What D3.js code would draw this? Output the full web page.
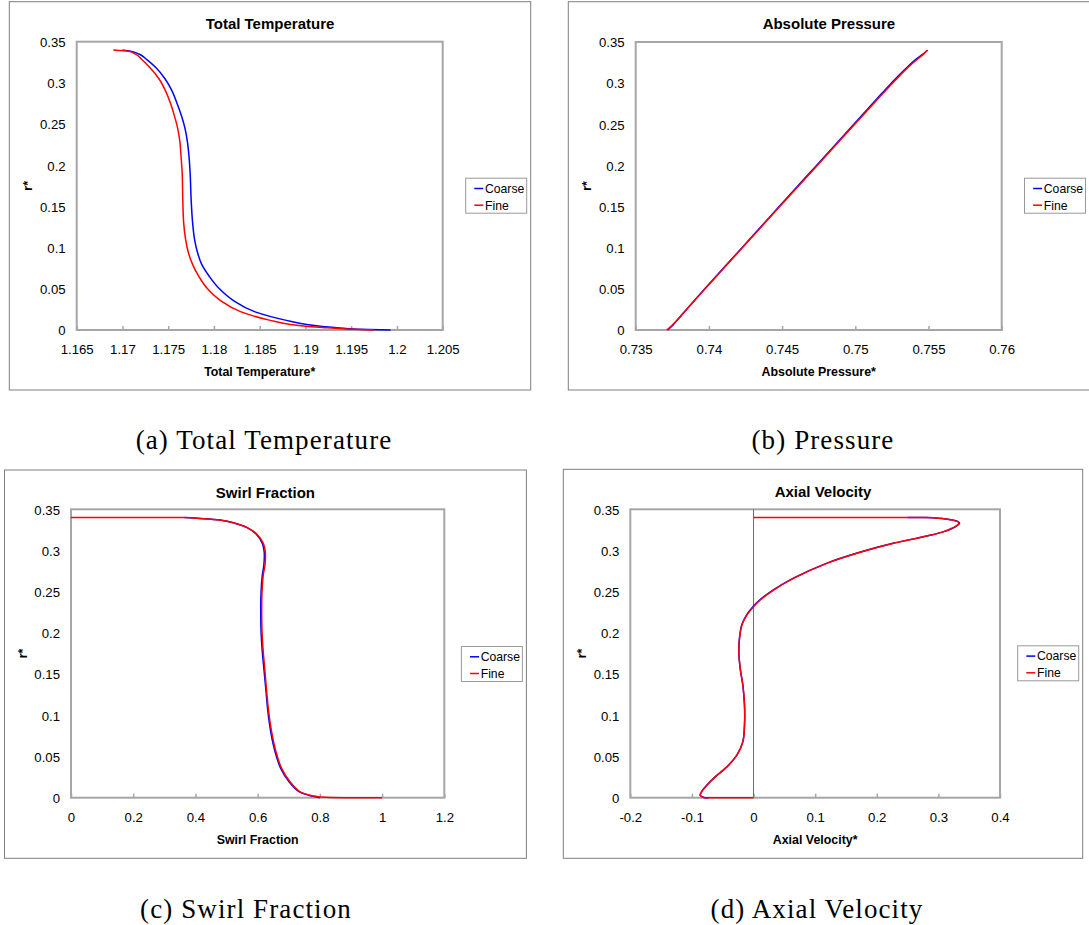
<!DOCTYPE html>
<html>
<head>
<meta charset="utf-8">
<script src="https://cdnjs.cloudflare.com/ajax/libs/d3/7.8.5/d3.min.js"></script>
<style>
body { margin: 0; background: #fff; }
svg text { font-family: "Liberation Sans", Arial, sans-serif; fill: #000; }
text.caption { font-family: "Liberation Serif", "Times New Roman", serif; }
</style>
</head>
<body>
<svg id="fig" width="1089" height="925"></svg>
<script>
// r* ticks shared by all four panels
var rTicks = [0, 0.05, 0.1, 0.15, 0.2, 0.25, 0.3, 0.35];

// (a) total temperature
var tempTicks = [1.165, 1.17, 1.175, 1.18, 1.185, 1.19, 1.195, 1.2, 1.205];
var tempR = [0.34, 0.3385, 0.335, 0.328, 0.318, 0.305, 0.29, 0.275, 0.26, 0.245, 0.23, 0.21, 0.19, 0.16, 0.13, 0.11, 0.095, 0.08, 0.065, 0.05, 0.036, 0.022, 0.012, 0.0065, 0.003, 0.001, 0];
var tempCoarseX = [1.17, 1.1709, 1.1718, 1.1727, 1.1737, 1.17465, 1.17543, 1.17597, 1.17645, 1.17683, 1.17708, 1.17728, 1.1774, 1.1775, 1.17767, 1.17788, 1.17818, 1.17865, 1.1795, 1.1806, 1.1821, 1.1845, 1.1878, 1.1903, 1.1932, 1.1958, 1.1993];
var tempFineX = [1.169, 1.17068, 1.17142, 1.17215, 1.17304, 1.17399, 1.17472, 1.17526, 1.17568, 1.17603, 1.17626, 1.17641, 1.17653, 1.17659, 1.17669, 1.1769, 1.17718, 1.17765, 1.17835, 1.1793, 1.18069, 1.18297, 1.18605, 1.18855, 1.19189, 1.19493, 1.1975];

// (b) absolute pressure
var pressR = [0, 0.005, 0.01, 0.02, 0.05, 0.1, 0.15, 0.2, 0.25, 0.28, 0.3, 0.31, 0.32, 0.33, 0.335, 0.34];
var pressTicks = [0.735, 0.74, 0.745, 0.75, 0.755, 0.76];
var pressCoarseX = [0.73718, 0.73748, 0.73774, 0.73823, 0.73972, 0.74226, 0.7448, 0.74735, 0.7499, 0.75143, 0.75246, 0.753, 0.75358, 0.75422, 0.7546, 0.75494];
var pressFineX = [0.73712, 0.73745, 0.73772, 0.73822, 0.73974, 0.74228, 0.74484, 0.7474, 0.74996, 0.7515, 0.75254, 0.75308, 0.75365, 0.7543, 0.75465, 0.7549];

// (c) swirl fraction
var swirlTicks = [0, 0.2, 0.4, 0.6, 0.8, 1, 1.2];
var swirlCoarseX = [0.365, 0.4147, 0.479, 0.5217, 0.5648, 0.595, 0.615, 0.621, 0.62, 0.615, 0.611, 0.61, 0.611, 0.615, 0.621, 0.627, 0.633, 0.642, 0.656, 0.674, 0.701, 0.733, 0.775, 0.8];
var swirlCoarseR = [0.34, 0.3389, 0.3369, 0.3337, 0.328, 0.32, 0.3087, 0.2986, 0.2824, 0.2702, 0.25, 0.2257, 0.2014, 0.177, 0.1529, 0.1286, 0.1043, 0.08, 0.0558, 0.0356, 0.0194, 0.0073, 0.002, 0];
var swirlFineX = [0, 0.15, 0.3, 0.362, 0.4147, 0.479, 0.5217, 0.5648, 0.597, 0.6182, 0.6246, 0.6236, 0.618, 0.614, 0.613, 0.614, 0.618, 0.6236, 0.629, 0.6355, 0.645, 0.659, 0.677, 0.704, 0.736, 0.779, 0.822, 0.9, 1];
var swirlFineR = [0.34, 0.34, 0.34, 0.3399, 0.3389, 0.3369, 0.3337, 0.328, 0.32, 0.3087, 0.2986, 0.2824, 0.2702, 0.25, 0.2257, 0.2014, 0.177, 0.1529, 0.1286, 0.1043, 0.08, 0.0558, 0.0356, 0.0194, 0.0073, 0.002, 0.0004, 0, 0];

// (d) axial velocity
var axialTicks = [-0.2, -0.1, 0, 0.1, 0.2, 0.3, 0.4];
var axialCoarseX = [0.25, 0.28, 0.3, 0.32, 0.332, 0.3345, 0.33, 0.309, 0.2814, 0.2262, 0.1722, 0.1181, 0.0639, 0.0315, 0.0099, -0.001, -0.0115, -0.0192, -0.0229, -0.0239, -0.0217, -0.0174, -0.0147, -0.0147, -0.0174, -0.0271, -0.0433, -0.0624, -0.0759, -0.084, -0.0865, -0.0805, -0.072];
var axialCoarseR = [0.34, 0.3399, 0.3392, 0.3374, 0.335, 0.333, 0.33, 0.3229, 0.3176, 0.3087, 0.2978, 0.2844, 0.2662, 0.252, 0.2399, 0.2318, 0.2217, 0.2095, 0.1933, 0.1771, 0.157, 0.1367, 0.1124, 0.088, 0.0678, 0.0516, 0.0374, 0.0253, 0.0151, 0.0078, 0.0029, 0.0003, 0];
var axialFineX = [0, 0.12, 0.24, 0.28, 0.3, 0.32, 0.331, 0.3335, 0.329, 0.3083, 0.2814, 0.2272, 0.1732, 0.1191, 0.0649, 0.0325, 0.0109, 0, -0.0108, -0.0188, -0.0227, -0.0238, -0.0216, -0.0173, -0.0146, -0.0146, -0.0173, -0.027, -0.0432, -0.0622, -0.0757, -0.0838, -0.0865, -0.0811, -0.065, -0.03, 0];
var axialFineR = [0.34, 0.34, 0.34, 0.3399, 0.3392, 0.3373, 0.335, 0.333, 0.33, 0.3229, 0.3176, 0.3087, 0.2978, 0.2844, 0.2662, 0.252, 0.2399, 0.2318, 0.2217, 0.2095, 0.1933, 0.1771, 0.157, 0.1367, 0.1124, 0.088, 0.0678, 0.0516, 0.0374, 0.0253, 0.0151, 0.0078, 0.0029, 0.0001, 0, 0, 0];

var seriesNames = ["Coarse", "Fine"];
var seriesColors = ["#0000ff", "#ff0000"];

function zipXY(xs, rs) {
	return xs.map(function(x, i) { return [x, rs[i]]; });
}

// Excel-like tick text: "1.2", "0.35", "-0.1"
function fmt(v) {
	return String(+v.toFixed(4));
}

var panels = [
	{ frame: [9.3, 1.7, 530.7, 390], plot: [76.7, 41.7, 442.7, 330],
		title: "Total Temperature", xlabel: "Total Temperature*", ticks: tempTicks,
		data: [zipXY(tempCoarseX, tempR), zipXY(tempFineX, tempR)], curve: d3.curveMonotoneY,
		caption: "(a) Total Temperature", cap: [264, 449] },
	{ frame: [568.3, 1.7, 1090.5, 390], plot: [635.7, 42, 1001.7, 330],
		title: "Absolute Pressure", xlabel: "Absolute Pressure*", ticks: pressTicks,
		data: [zipXY(pressCoarseX, pressR), zipXY(pressFineX, pressR)], curve: d3.curveMonotoneY,
		caption: "(b) Pressure", cap: [823, 449] },
	{ frame: [4.5, 470, 526.4, 858.3], plot: [71, 509.3, 444.3, 797.7],
		title: "Swirl Fraction", xlabel: "Swirl Fraction", ticks: swirlTicks,
		data: [zipXY(swirlCoarseX, swirlCoarseR), zipXY(swirlFineX, swirlFineR)], curve: d3.curveCatmullRom.alpha(0.5),
		caption: "(c) Swirl Fraction", cap: [246, 918] },
	{ frame: [563.3, 469.3, 1082.7, 858.3], plot: [630.3, 509.3, 1000, 797.7],
		title: "Axial Velocity", xlabel: "Axial Velocity*", ticks: axialTicks, zeroLine: true,
		data: [zipXY(axialCoarseX, axialCoarseR), zipXY(axialFineX, axialFineR)], curve: d3.curveCatmullRom.alpha(0.5),
		caption: "(d) Axial Velocity", cap: [817, 918] }
];

var svg = d3.select("#fig");

panels.forEach(drawPanel);

function drawPanel(p) {
	var f = p.frame, pl = p.plot;
	var right = Math.min(f[2], 1089.5);
	var g = svg.append("g");

	g.append("rect")
			.attr("x", f[0]).attr("y", f[1])
			.attr("width", f[2] - f[0]).attr("height", f[3] - f[1])
			.attr("fill", "#fff")
			.attr("stroke", "#7f7f7f")
			.attr("stroke-width", 1);

	var x = d3.scaleLinear()
			.domain([p.ticks[0], p.ticks[p.ticks.length - 1]])
			.range([pl[0], pl[2]]);
	var y = d3.scaleLinear()
			.domain([0, 0.35])
			.range([pl[3], pl[1]]);

	g.append("rect")
			.attr("x", pl[0]).attr("y", pl[1])
			.attr("width", pl[2] - pl[0]).attr("height", pl[3] - pl[1])
			.attr("fill", "#fff")
			.attr("stroke", "#a6a6a6")
			.attr("stroke-width", 2);

	var xAxis = d3.axisBottom(x)
			.tickValues(p.ticks)
			.tickFormat(fmt)
			.tickSize(-4)
			.tickPadding(15);

	var yAxis = d3.axisLeft(y)
			.tickValues(rTicks)
			.tickFormat(fmt)
			.tickSize(0)
			.tickPadding(11);

	var xg = g.append("g")
			.attr("transform", "translate(0," + pl[3] + ")")
			.call(xAxis);
	var yg = g.append("g")
			.attr("transform", "translate(" + pl[0] + ",0)")
			.call(yAxis);

	[xg, yg].forEach(function(a) {
		a.attr("font-family", null).attr("font-size", null);
		a.select(".domain").remove();
		a.selectAll(".tick line").attr("stroke", "#a6a6a6").attr("stroke-width", 1.5);
		a.selectAll(".tick text").style("font-size", "13.2px");
	});
	xg.selectAll(".tick text").attr("dy", "0.68em");
	yg.selectAll(".tick text").attr("dy", "0.36em");

	if (p.zeroLine) {
		g.append("line")
				.attr("x1", x(0)).attr("x2", x(0))
				.attr("y1", pl[1]).attr("y2", pl[3])
				.attr("stroke", "#6e6e6e")
				.attr("stroke-width", 1);
	}

	var line = d3.line()
			.x(function(d) { return x(d[0]); })
			.y(function(d) { return y(d[1]); })
			.curve(p.curve);

	p.data.forEach(function(s, i) {
		g.append("path")
				.attr("d", line(s))
				.attr("fill", "none")
				.attr("stroke", seriesColors[i])
				.attr("stroke-width", 1.5);
	});

	// Titles
	g.append("text")
			.attr("x", (f[0] + right) / 2)
			.attr("y", f[1] + 27.6)
			.attr("text-anchor", "middle")
			.style("font-size", "15px")
			.style("font-weight", "bold")
			.text(p.title);

	g.append("text")
			.attr("x", (pl[0] + pl[2]) / 2)
			.attr("y", pl[3] + 46)
			.attr("text-anchor", "middle")
			.style("font-size", "12.4px")
			.style("font-weight", "bold")
			.text(p.xlabel);

	g.append("text")
			.attr("transform", "translate(" + (f[0] + 22.5) + "," + ((pl[1] + pl[3]) / 2) + ") rotate(-90)")
			.attr("text-anchor", "middle")
			.style("font-size", "12.4px")
			.style("font-weight", "bold")
			.text("r*");

	// Legend box to the right of the plot
	var lx = right - 65, ly = f[1] + 176.5;
	var leg = g.append("g").attr("transform", "translate(" + lx + "," + ly + ")");
	leg.append("rect")
			.attr("width", 61).attr("height", 35)
			.attr("fill", "#fff")
			.attr("stroke", "#999")
			.attr("stroke-width", 1);
	seriesNames.forEach(function(name, i) {
		leg.append("line")
				.attr("x1", 8.6).attr("x2", 17.6)
				.attr("y1", 10.3 + i * 16.7).attr("y2", 10.3 + i * 16.7)
				.attr("stroke", seriesColors[i])
				.attr("stroke-width", 1.5);
		leg.append("text")
				.attr("x", 19.3)
				.attr("y", 14.5 + i * 17)
				.style("font-size", "12.2px")
				.text(name);
	});

	svg.append("text")
			.attr("class", "caption")
			.attr("x", p.cap[0])
			.attr("y", p.cap[1])
			.attr("text-anchor", "middle")
			.style("font-size", "27px")
			.style("letter-spacing", "1.1px")
			.text(p.caption);
}
</script>
</body>
</html>
